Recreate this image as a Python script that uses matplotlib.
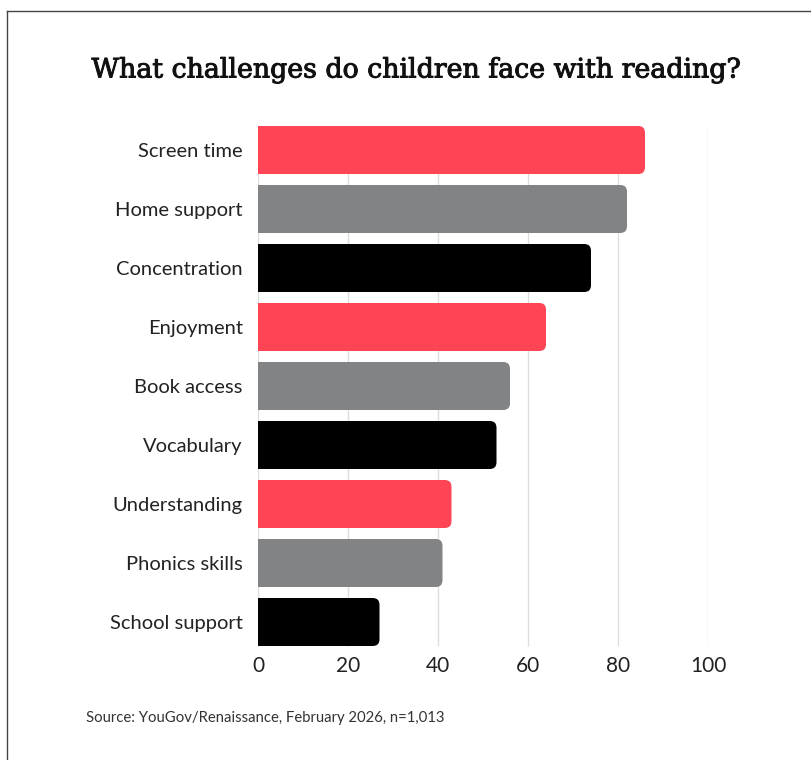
import matplotlib.pyplot as plt
import matplotlib.patheffects as pe
from matplotlib.patches import FancyBboxPatch, Rectangle
from matplotlib.lines import Line2D

categories = ["Screen time", "Home support", "Concentration", "Enjoyment",
              "Book access", "Vocabulary", "Understanding", "Phonics skills",
              "School support"]
values = [86, 82, 74, 64, 56, 53, 43, 41, 27]
colors = ["#ff4455", "#818384", "#000000"] * 3
xticks = [0, 20, 40, 60, 80, 100]

W, H = 812, 760
fig = plt.figure(figsize=(W / 100, H / 100), dpi=100)
# axes spans x 0..100 between px 258 and 708, rows 59 px apart
ax = fig.add_axes([258 / W, 1 - 651.5 / H, 450 / W, 531 / H])
ax.set_xlim(0, 100)
ax.set_ylim(8.5, -0.5)

bar_h = 48 / 59
radius = 1.5  # in x units
aspect = (1 / 59) / (1 / 4.5)

ax.vlines(xticks, -bar_h / 2, 8 + bar_h / 2, color="#dddddd", lw=1, zorder=0)

for i, (v, c) in enumerate(zip(values, colors)):
    y0 = i - bar_h / 2
    ax.add_patch(FancyBboxPatch((0, y0), v, bar_h,
                                boxstyle=f"round,pad=0,rounding_size={radius}",
                                mutation_aspect=aspect, fc=c, ec="none", zorder=2))
    ax.add_patch(Rectangle((0, y0), v - radius, bar_h, fc=c, ec="none", zorder=2))

ax.set_yticks(range(len(categories)))
ax.set_yticklabels(categories, fontsize=14.5, family="Lato", color="#222222")
ax.set_xticks(xticks)
ax.set_xticklabels([str(t) for t in xticks], fontsize=15, family="Lato", color="#222222")
ax.tick_params(axis="y", length=0, pad=11)
ax.tick_params(axis="x", length=0, pad=3)
for s in ax.spines.values():
    s.set_visible(False)

title = fig.text(416 / W, 1 - 70 / H, "What challenges do children face with reading?",
                 ha="center", va="center", fontsize=19.3, family="DejaVu Serif",
                 color="#111111")
title.set_path_effects([pe.withStroke(linewidth=0.7, foreground="#111111")])
fig.text(86 / W, 1 - 718 / H, "Source: YouGov/Renaissance, February 2026, n=1,013",
         ha="left", va="center", fontsize=10.7, family="Lato", color="#333333")

# frame lines on top and left
fig.add_artist(Line2D([7 / W, 1], [1 - 11 / H, 1 - 11 / H], color="#444444", lw=1,
                      transform=fig.transFigure))
fig.add_artist(Line2D([7 / W, 7 / W], [1 - 11 / H, 0], color="#444444", lw=1,
                      transform=fig.transFigure))

fig.savefig("out.png", dpi=100)
